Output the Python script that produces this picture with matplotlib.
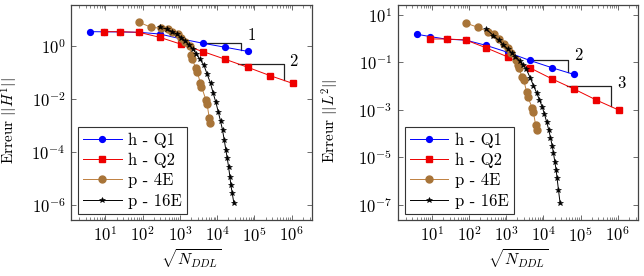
import numpy as np
import matplotlib
matplotlib.use("Agg")
import matplotlib.pyplot as plt
from matplotlib.ticker import LogLocator, NullLocator, LogFormatterSciNotation, NullFormatter

plt.rcParams['mathtext.fontset'] = 'cm'
plt.rcParams['font.family'] = ['cmr10', 'DejaVu Serif']
plt.rcParams['axes.formatter.use_mathtext'] = True
plt.rcParams['axes.unicode_minus'] = False

# ---------------- data ----------------
x_q1 = [4, 9, 25, 81, 289, 1089, 4225, 16641, 66049]
x_q2 = [9, 25, 81, 289, 1089, 4225, 16641, 66049, 263169, 1050625]
x_4e = [81, 170, 320, 470, 630, 870, 1100, 1350, 1860, 2040, 2140, 2690, 2950,
        3550, 3800, 5000, 5370, 6170, 6600]
x_16e = [289, 450, 630, 840, 1100, 1410, 1770, 2270, 2790, 3430, 4390, 5400, 6640,
         7820, 9230, 10670, 12300, 13930, 15450, 17140, 18620, 20230, 21930, 23330,
         25350, 28120]

# H1 error
h1_q1 = [3.38, 3.35, 3.3, 3.2, 2.76, 1.8, 1.23, 0.87, 0.61]
h1_q2 = [3.38, 3.38, 3.19, 2.07, 1.13, 0.595, 0.306, 0.153, 0.074, 0.038]
h1_4e = [7.6, 4.94, 4.54, 4.16, 3.37, 2.69, 2.0, 1.42, 1.0, 0.446, 0.307, 0.140,
         0.099, 0.0381, 0.0284, 0.00893, 0.00615, 0.00182, 0.00118]
h1_16e = [4.93, 4.27, 3.38, 2.69, 2.01, 1.50, 1.06, 0.73, 0.472, 0.306, 0.187, 0.083,
          0.038, 0.016, 0.0073, 0.00324, 0.00144, 6.6e-4, 2.77e-4, 1.16e-4, 5.6e-5,
          2.72e-5, 1.14e-5, 5.5e-6, 2.69e-6, 1.13e-6]

# L2 error
l2_q1 = [1.53, 1.22, 0.95, 0.87, 0.52, 0.266, 0.122, 0.060, 0.031]
l2_q2 = [0.97, 0.97, 0.88, 0.41, 0.17, 0.060, 0.0204, 0.00755, 0.00259, 0.00098]
l2_4e = [4.6, 3.02, 1.98, 1.53, 0.97, 0.578, 0.393, 0.242, 0.126, 0.0776, 0.0562,
         0.025, 0.0181, 0.00546, 0.00358, 0.00115, 0.00078, 0.000229, 0.000141]
l2_16e = [2.56, 1.34, 0.853, 0.542, 0.367, 0.242, 0.175, 0.115, 0.0776, 0.0527, 0.0227,
          0.0104, 0.00495, 0.00259, 0.00136, 6.4e-4, 2.96e-4, 1.41e-4, 6.7e-5, 3.07e-5,
          1.46e-5, 6.5e-6, 2.9e-6, 1.28e-6, 4.2e-7, 1.13e-7]

labels = ["h - Q1", "h - Q2", "p - 4E", "p - 16E"]

# slope triangles: (series key, x start, x end, label, label x, label y)
tri_h1 = [("q1", 4225, 42660, "1", 83000, 2.5),
          ("q2", 36300, 631000, "2", 1.1e6, 0.265)]
tri_l2 = [("q1", 4225, 44700, "2", 87000, 0.205),
          ("q2", 42700, 646000, "3", 1.29e6, 0.0132)]

xlim = (1.2, 3.5e6)
ylim_h1 = (10 ** -6.58, 10 ** 1.536)
ylim_l2 = (10 ** -7.65, 10 ** 1.42)
yticks_h1 = [1e-6, 1e-4, 1e-2, 1e0]
yticks_l2 = [1e-7, 1e-5, 1e-3, 1e-1, 1e1]
xticks = [1e1, 1e2, 1e3, 1e4, 1e5, 1e6]

# ---------------- figure ----------------
fig = plt.figure(figsize=(6.44, 2.76), dpi=100)
ax1 = fig.add_axes([71 / 644, 56 / 276, 241 / 644, 215 / 276])
ax2 = fig.add_axes([397.7 / 644, 56 / 276, 240.3 / 644, 215 / 276])

c_blue = '#0000ff'
c_red = '#ee0000'
c_brown = '#bf8040'
c_brown_m = '#a87438'


def loginterp(x, xs, ys):
    return 10 ** np.interp(np.log10(x), np.log10(xs), np.log10(ys))


def draw(ax, q1, q2, e4, e16, ylim, yticks, tris, ylabel, ylab_x):
    ax.set_xscale('log')
    ax.set_yscale('log')
    l1, = ax.plot(x_q1, q1, '-o', color=c_blue, lw=0.7, ms=4.2, mfc=c_blue, mec=c_blue, zorder=3)
    l2, = ax.plot(x_q2, q2, '-s', color=c_red, lw=0.7, ms=4.0, mfc=c_red, mec=c_red, zorder=3)
    l3, = ax.plot(x_4e, e4, '-o', color=c_brown, lw=0.7, ms=5.0, mfc=c_brown_m, mec=c_brown_m, zorder=4)
    l4, = ax.plot(x_16e, e16, '-*', color='black', lw=0.7, ms=3.8, mew=0.4, zorder=5)
    series = {"q1": q1, "q2": q2}
    for key, xa, xb, lab, lx, ly in tris:
        xs = x_q1 if key == "q1" else x_q2
        ya = loginterp(xa, xs, series[key])
        yb = loginterp(xb, xs, series[key])
        ax.plot([xa, xb, xb], [ya, ya, yb], color='#222222', lw=0.9, zorder=2)
        ax.text(lx, ly, lab, fontsize=12, ha='center', va='center')
    ax.set_xlim(*xlim)
    ax.set_ylim(*ylim)
    ax.set_xticks(xticks)
    ax.xaxis.set_minor_locator(LogLocator(base=10, subs=np.arange(2, 10), numticks=20))
    ax.xaxis.set_minor_formatter(NullFormatter())
    ax.set_yticks(yticks)
    ax.yaxis.set_minor_locator(NullLocator())
    ax.xaxis.set_major_formatter(LogFormatterSciNotation())
    ax.yaxis.set_major_formatter(LogFormatterSciNotation())
    ax.tick_params(which='both', direction='in', top=True, right=True, labelsize=12,
                   color='#555555')
    ax.tick_params(which='major', length=3.5, width=0.6)
    ax.tick_params(axis='x', which='major', pad=4)
    ax.tick_params(axis='y', which='major', pad=4)
    ax.tick_params(which='minor', length=2, width=0.5)
    for s in ax.spines.values():
        s.set_color('#444444')
        s.set_linewidth(0.9)
    ax.set_xlabel(r'$\sqrt{N_{DDL}}$', fontsize=11.5, labelpad=1.5)
    ax.set_ylabel(ylabel, fontsize=11)
    ax.yaxis.set_label_coords(ylab_x, 0.46)
    leg = ax.legend([l1, l2, l3, l4], labels, loc='lower left', bbox_to_anchor=(0.03, 0.03),
                    borderaxespad=0, fontsize=12, fancybox=False, framealpha=1,
                    edgecolor='#333333', handlelength=2.3, handletextpad=0.4,
                    labelspacing=0.3, borderpad=0.3)
    leg.get_frame().set_linewidth(0.8)


draw(ax1, h1_q1, h1_q2, h1_4e, h1_16e, ylim_h1, yticks_h1, tri_h1,
     r'Erreur $||H^1||$', -0.21)
draw(ax2, l2_q1, l2_q2, l2_4e, l2_16e, ylim_l2, yticks_l2, tri_l2,
     r'Erreur $||L^2||$', -0.235)

fig.savefig('out.png', dpi=100)
